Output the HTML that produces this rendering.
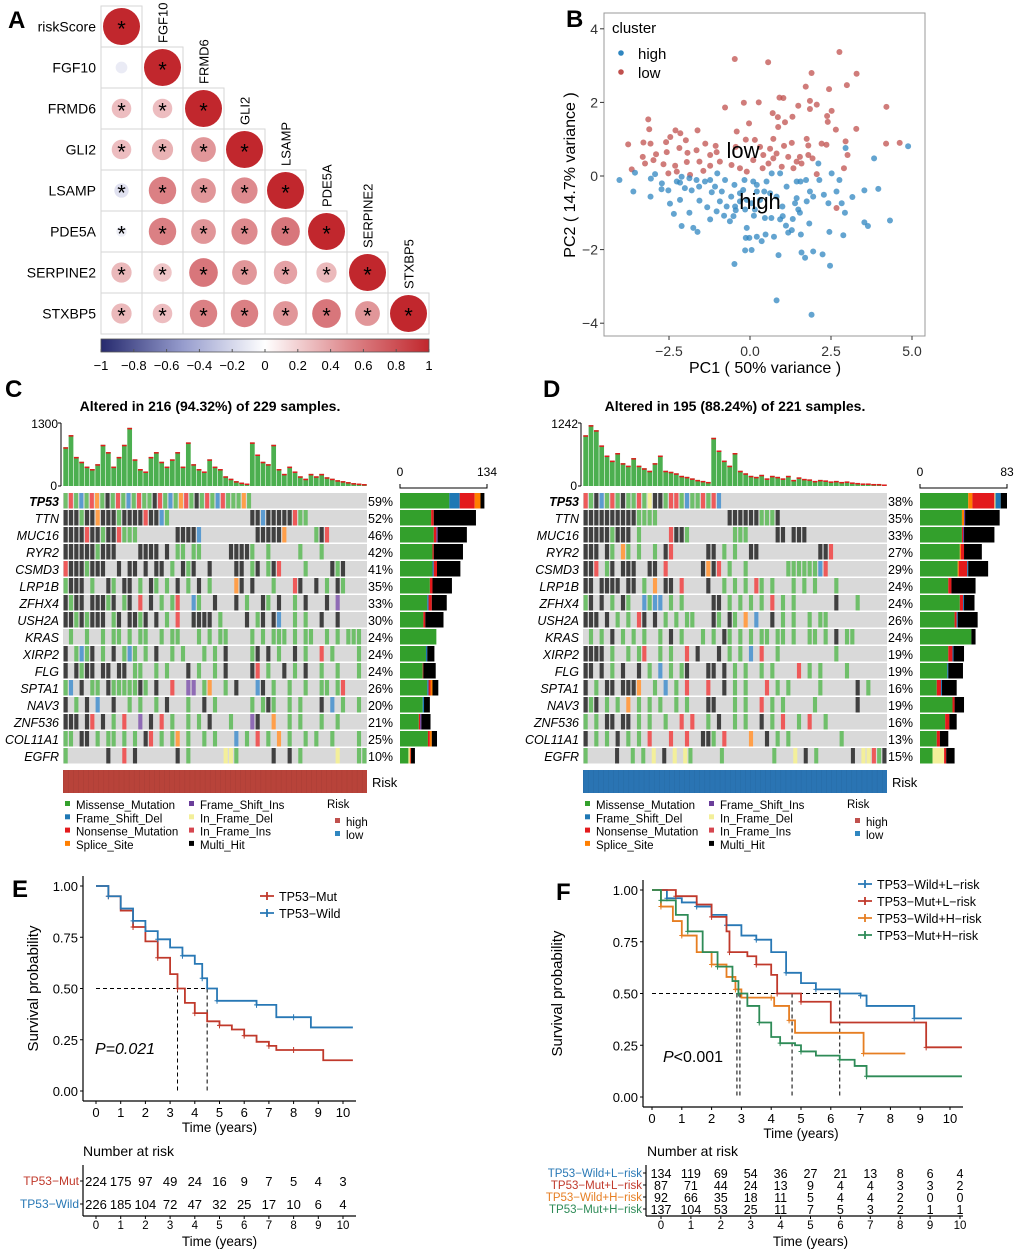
<!DOCTYPE html>
<html><head><meta charset="utf-8"><style>
html,body{margin:0;padding:0;background:#fff;}
svg{display:block;font-family:"Liberation Sans",Arial,sans-serif;}
</style></head><body>
<svg id="fig" xmlns="http://www.w3.org/2000/svg" width="1020" height="1253" viewBox="0 0 1020 1253">
<rect width="1020" height="1253" fill="#fff"/>
</svg>
<script>
// ---------- Panel A data ----------
const corrGenes = ["riskScore","FGF10","FRMD6","GLI2","LSAMP","PDE5A","SERPINE2","STXBP5"];
const corrRows = [
 [1],
 [-0.1,1],
 [0.28,0.28,1],
 [0.28,0.33,0.45,1],
 [-0.15,0.55,0.45,0.5,1],
 [-0.08,0.55,0.45,0.5,0.6,1],
 [0.3,0.25,0.6,0.45,0.4,0.3,1],
 [0.3,0.28,0.55,0.55,0.45,0.6,0.45,1]
];
const corrSig = [[1],[0,1],[1,1,1],[1,1,1,1],[1,1,1,1,1],[1,1,1,1,1,1],[1,1,1,1,1,1,1],[1,1,1,1,1,1,1,1]];
const cbTicks = [-1,-0.8,-0.6,-0.4,-0.2,0,0.2,0.4,0.6,0.8,1];
// ---------- Panel B data ----------
const pcLowX = [2.76,-0.47,0.56,1.90,3.29,2.99,2.44,1.72,-0.19,0.27,0.91,1.03,1.85,2.06,1.49,4.21,-0.77,1.85,0.70,1.31,0.86,2.52,2.38,2.40,1.08,-3.14,-3.11,-2.30,-2.15,-1.62,3.28,2.65,-0.03,-0.41,0.87,0.72,1.75,-0.13,0.15,-3.76,-3.29,-3.07,-2.59,-2.46,-1.98,-1.38,-1.06,1.29,1.80,2.21,2.36,2.95,4.20,4.62,-3.31,-2.90,-2.57,-2.18,-1.93,-1.65,-1.23,-1.03,-0.44,0.31,0.62,1.05,0.41,0.72,1.54,1.80,3.01,-3.24,-2.98,-2.67,-2.31,-1.95,-1.56,-1.23,-0.93,-0.57,0.10,0.57,0.98,1.44,1.59,1.93,-3.65,-2.52,-2.26,-1.85,-1.44,-0.31,-0.10,0.39,1.34,2.06,2.90,2.67,1.18,0.82];
const pcLowY = [3.37,3.18,3.09,2.80,2.78,2.47,2.36,2.43,1.99,2.00,2.13,2.12,2.04,1.94,1.91,1.88,1.86,1.82,1.71,1.61,1.60,1.77,1.63,1.47,1.46,1.54,1.27,1.24,1.16,1.24,1.28,1.26,1.43,1.21,1.33,1.01,1.01,0.99,0.98,0.86,0.91,0.88,0.92,1.06,0.97,0.88,0.82,0.90,0.83,0.88,0.85,0.94,0.88,0.90,0.52,0.59,0.65,0.76,0.63,0.70,0.57,0.65,0.79,0.79,0.74,0.82,0.57,0.48,0.52,0.57,0.57,0.34,0.43,0.32,0.28,0.38,0.39,0.28,0.39,0.30,0.43,0.34,0.25,0.39,0.34,0.48,0.18,0.07,0.12,0.03,0.14,0.21,0.12,0.21,0.21,0.05,0.21,-0.87,0.52,0.61];
const pcHighX = [-4.03,-3.55,-3.60,-3.07,-3.06,-2.93,-2.72,-2.73,-2.52,-2.47,-2.35,-2.16,-2.01,-2.11,-2.16,-1.87,-1.75,-1.62,-1.80,-1.57,-1.56,-1.32,-1.23,-1.18,-1.23,-1.03,-1.01,-0.93,-0.77,-0.80,-0.72,-0.62,-0.58,-0.48,-0.44,-0.31,-0.17,-0.10,-0.13,-0.02,-0.15,0.05,0.12,0.21,0.36,0.46,0.48,0.66,0.74,0.93,1.01,1.11,1.18,1.29,1.32,1.44,1.54,1.57,1.59,1.70,1.83,1.95,1.73,1.85,2.11,2.14,2.28,2.42,2.45,2.47,2.24,2.52,2.76,2.83,2.88,2.93,2.95,3.16,3.53,3.64,3.53,3.83,3.96,4.32,4.88,0.82,1.90,0.88,-0.48,0.44,0.62,0.82,1.00,1.13,1.44,0.51,0.67,0.93,0.10,0.21,0.31,0.05,-0.21,-0.31,-0.46,-0.87,-1.08,-1.39,-1.65,-1.87,-2.11,-2.26,-0.15,0.15,-0.10,0.21,-0.51,1.39,1.49,1.75,1.95,1.56,2.67];
const pcHighY = [-0.11,0.09,-0.42,-0.56,-0.07,0.05,-0.20,-0.36,-0.39,-0.75,-1.03,-0.18,-0.33,-1.36,-0.65,-1.00,-1.41,-1.52,-0.39,-0.29,-0.67,-0.85,-0.11,-0.44,-1.18,-0.96,0.07,-0.69,-0.11,-1.08,-0.83,-1.23,-0.56,-0.24,-0.93,-0.69,-0.11,-1.41,-1.68,-1.68,-2.02,-2.01,-1.08,-1.65,-1.77,-1.14,-1.59,-1.14,-1.65,-1.18,-1.09,-1.35,-1.54,-1.47,-1.17,-0.60,-1.00,-1.59,-2.08,-2.22,-1.29,-2.05,-0.11,-0.42,0.34,-0.11,-0.51,-0.74,-1.52,-2.44,-2.13,0.07,-0.11,-0.74,-1.61,-1.00,0.76,-0.57,-1.26,-1.36,-0.39,0.48,-0.35,-1.21,0.81,-3.38,-3.77,-2.15,-2.39,-0.42,-0.47,-0.56,-0.83,-0.29,-0.15,-0.15,0.07,0.07,-0.15,-0.42,-0.65,-0.74,-0.38,-0.47,-0.83,-0.42,-0.29,-0.15,-0.11,-0.06,-0.02,-0.15,-0.91,-0.91,-0.65,-0.24,-1.09,-0.74,-0.91,-0.69,-0.56,-0.15,-0.42];
const pcXTicks = [-2.5,0,2.5,5.0];
const pcYTicks = [4,2,0,-2,-4];
// ---------- Oncoplot data ----------
const oncoGenes = ["TP53","TTN","MUC16","RYR2","CSMD3","LRP1B","ZFHX4","USH2A","KRAS","XIRP2","FLG","SPTA1","NAV3","ZNF536","COL11A1","EGFR"];
const pctC = ["59%","52%","46%","42%","41%","35%","33%","30%","24%","24%","24%","26%","20%","21%","25%","10%"];
const pctD = ["38%","35%","33%","27%","29%","24%","24%","26%","24%","19%","19%","16%","19%","16%","13%","15%"];
const matC = [
"grgbgrogkgrgbgrggkrgbgorgkgrgbrgggog......................",
"kkkgkkokkkgkkkkrkkbg...............kkbkkkkkrgg...........",
"kkkkrkkgkkrggg.......kkkkb..........kkkkko.....gkr.......",
"kkkkkkgkkk....kkkk.k.gg.gg.....kkkkg..g.....g...g........",
"rkkkgkkk..k.kk.k.kk.g.kgk..k....kk.gk.gkr....g....kgk....",
"gkkk.g..kg.kk.g.kg.g.k.g.k.g....ok.k...g...rk..k.g.kg....",
"kgkk.kkkgk.gk.r.k.g.gr..bg..k...k.g..kg.k..g.k...k.p.....",
"kkgkgkkk.gk.kkgk.k.g.r..kkkk.g....k.gk.kb..g.g..k..k.....",
".g..g..g.gg.g.gg..g.gg...g.g.gg....g.g.ggg.g.gg..g.g.ggg.",
"k.gbgk.g.k.gbg.g.k..g.g...g.g.k....gk.k.g..k.g..r.g....g.",
"k.kgkk.kk.kk.gg..g.g...k.g..g.k....kr.g..k.g.k..g..g...g.",
"gb.k.gg.kgggggkg.k..r..pp.go..g.k...bk.g..g..g..gg.gr....",
"k.g.k.b..k..g.g..g.k...g..k.g......g.gkg..g.g...k.b.g..g.",
"kkk.kr.k.g.r..p.k.r.g..g.g.k...g...pk..o..g.g...g..g.....",
"gg.kk.g.gg.g.g.kr.g.go.g..g.g...b.g.r.g.o.g..g.g..g....g.",
"g.......k..r.k.......k.g......yyg......k..k.g......y...gg"];
const matD = [
"rgkbgrgkggrgykkgrrgbggrgrb...............................",
"kkkkkkkkkkgggg.............kkkkkkgggk....................",
"kkkkkgkkk.g.....rkkg........ggg.....kk.kkk...............",
"kkk.kg.og.g..g.kr......kk.g.g..kk...........kkr..........",
"kkr.gk.kkk..kk.r......kokr.g..g.......ggggggbr...........",
"kk.kkkk.kk.g.o.kk.r....k..g.g.g.rg.g...g.g.g...g.........",
"gk.k.g.kg..bgbb.g.g.....kk.g.g.g.g.r.g.g.......k...g.....",
"kkk.k.g.g.rk.k.g.g.gg...kg.kg.o.b..k.g.g..g.gg...........",
".g.g.k.g.g.g..g.k.g...g.g.kg.g.g.gg.gg.g..gg.g.k.gg......",
"kkkk.g..g.gr..g.g..r.k...k.g.g.b.r..g..........g.........",
"kk.k.g.k..k.g.b.g.gk...kk.k.g.g..g.g....r.g.g....g.......",
"k.g.kk.kkko..g.b.g.r...r..k.g.g...r.g.g.....g......k.g...",
"kgk.g.g.o.g.g.g..g.g...kk...g.g..r.g.g.....g.......k.....",
"g.g.kk.kk.g.g..g..r.r..g.k..g.g..k.g.r..g.r..g...........",
"k.g.g.k.g.g.r...r..r..kkg.r....o..k.g.g.........g........",
"g.....k..g.g.y.k.y.yg.....g.........g...y.k.g......k.yyrgk"];
const cntTypesC = [["g","b","r","o","k"],["g","r","k"],["g","r","p","k"],["g","r","k"],["g","b","r","k"],["g","r","k"],["g","b","r","k"],["g","r","k"],["g"],["g","b","k"],["g","r","k"],["g","b","r","o","k"],["g","b","k"],["g","r","p","k"],["g","r","o","k"],["g","y","o","r","k"]];
const cntValsC = [[76,16,23,9,6],[48,4,65],[52,4,2,45],[50,2,45],[50,2,5,36],[46,4,30],[42,2,5,23],[36,3,28],[56],[40,2,11],[35,1,19],[42,2,3,3,9],[35,2,9],[29,2,2,14],[43,3,3,8],[13,2,1,1,6]];
const cntTypesD = [["g","o","r","y","b","k"],["g","o","p","k"],["g","r","p","k"],["g","o","r","k"],["g","o","r","b","k"],["g","r","k"],["g","r","b","k"],["g","r","b","k"],["g","k"],["g","r","b","k"],["g","b","k"],["g","r","b","k"],["g","r","k"],["g","r","k"],["g","r","k"],["g","y","r","k"]];
const cntValsD = [[46,4,21,1,5,6],[40,2,1,33],[40,1,1,29],[38,1,3,17],[36,1,8,1,19],[27,3,23],[38,3,1,10],[33,2,1,19],[49,4],[27,4,1,10],[26,1,14],[16,4,1,14],[31,2,9],[24,4,7],[16,3,8],[12,11,2,8]];
const tmbC = [800,1050,600,500,400,350,450,850,700,400,600,850,1200,550,350,300,600,700,500,400,550,700,400,900,450,350,300,550,400,350,200,150,100,70,50,900,650,500,450,850,350,250,400,300,200,150,250,200,250,180,150,120,100,80,60,50,40];
const tmbD = [1000,1200,1100,800,600,500,650,450,400,550,400,350,300,450,600,300,280,250,200,180,150,120,100,80,950,700,500,400,650,300,250,200,180,220,150,200,180,150,200,120,170,140,130,100,120,110,90,100,80,90,70,60,50,50,40,40,30];
// ---------- KM data ----------
const kmE_mutT = [0,0.5,1,1.5,2,2.5,3,3.3,3.6,4,4.5,5,5.5,6,6.5,7,7.3,8,9.2,10.4];
const kmE_mutS = [1,0.95,0.88,0.8,0.73,0.65,0.57,0.5,0.43,0.38,0.34,0.32,0.30,0.27,0.24,0.22,0.20,0.20,0.15,0.15];
const kmE_wildT = [0,0.5,1,1.5,2,2.5,3,3.5,4,4.3,4.5,4.9,6,6.5,7.3,8,8.7,10.4];
const kmE_wildS = [1,0.95,0.89,0.83,0.78,0.74,0.70,0.66,0.62,0.55,0.50,0.44,0.44,0.42,0.36,0.36,0.31,0.31];
const kmF_wlT = [0,0.5,1,1.5,2,2.5,3,3.5,4,4.5,5,5.5,6.3,7,7.2,8.8,10.4];
const kmF_wlS = [1,0.96,0.94,0.92,0.88,0.83,0.78,0.76,0.70,0.60,0.55,0.52,0.50,0.49,0.44,0.38,0.38];
const kmF_mlT = [0,0.8,1.5,2,2.5,2.6,3.2,3.5,4,4.2,4.6,5,6,9.2,10.4];
const kmF_mlS = [1,0.97,0.93,0.87,0.80,0.70,0.68,0.64,0.59,0.50,0.50,0.46,0.36,0.24,0.24];
const kmF_whT = [0,0.3,0.7,1,1.5,2,2.5,2.8,3,4,4.1,4.6,4.8,7.1,8.5];
const kmF_whS = [1,0.92,0.85,0.78,0.70,0.64,0.58,0.52,0.48,0.48,0.44,0.37,0.31,0.21,0.21];
const kmF_mhT = [0,0.3,0.8,1.2,1.7,2.2,2.7,2.9,3.2,3.6,4,4.3,4.8,5,5.5,6.3,6.8,7.2,10.4];
const kmF_mhS = [1,0.95,0.88,0.80,0.70,0.63,0.56,0.50,0.44,0.36,0.29,0.26,0.25,0.22,0.20,0.18,0.15,0.10,0.10];
const riskE = [[224,175,97,49,24,16,9,7,5,4,3],[226,185,104,72,47,32,25,17,10,6,4]];
const riskF = [[134,119,69,54,36,27,21,13,8,6,4],[87,71,44,24,13,9,4,4,3,3,2],[92,66,35,18,11,5,4,4,2,0,0],[137,104,53,25,11,7,5,3,2,1,1]];

// ---------- helpers ----------
const svg = document.getElementById('fig');
const NS = "http://www.w3.org/2000/svg";
function el(tag, attrs, parent, txt){
  const e = document.createElementNS(NS, tag);
  for (const k in attrs) e.setAttribute(k, attrs[k]);
  if (txt !== undefined) e.textContent = txt;
  (parent||svg).appendChild(e);
  return e;
}
function grp(name){ const g = el('g',{});   return g; }
function txt(parent,x,y,s,opts,name){
  const a = Object.assign({x:x,y:y,'font-size':12,fill:'#000'},opts||{});
  const t = el('text',a,parent,s);
  
  
  return t;
}
const colMap = {g:'#33a02c',k:'#000000',r:'#e31a1c',b:'#1f78b4',o:'#ff7f00',p:'#6a3d9a',y:'#f3ef9a',m:'#d6464f'};
const colMapLight = {g:'#6fbf6a',k:'#404040',r:'#ee5a5a',b:'#5b9bd0',o:'#ff9f4a',p:'#8f6bb5',y:'#f3ef9a'};

// ---------- Panel A ----------
(function(){
  const g = grp('panel-a-correlation');
  txt(g,8,28,'A',{'font-size':24,'font-weight':'bold'},'panel-a-letter');
  const x0=101,y0=6,cw=41;
  function corColor(v){
    const pos=[[1,[193,39,45]],[0.5,[222,138,142]],[0,[255,255,255]],[-0.5,[150,156,205]],[-1,[38,42,110]]];
    for(let i=0;i<pos.length-1;i++){
      const [a,ca]=pos[i],[b,cb]=pos[i+1];
      if(v<=a&&v>=b){const t=(a-v)/(a-b);return 'rgb('+ca.map((c,j)=>Math.round(c+(cb[j]-c)*t)).join(',')+')';}
    }
    return '#fff';
  }
  corrRows.forEach((row,j)=>{
    txt(g,96,y0+cw*j+cw/2+5,corrGenes[j],{'font-size':14,'text-anchor':'end'},'row-label-'+corrGenes[j].toLowerCase());
    row.forEach((v,i)=>{
      const cx=x0+cw*i, cy=y0+cw*j;
      const r = el('rect',{x:cx,y:cy,width:cw,height:cw,fill:'#fff',stroke:'#d6d6d6','stroke-width':1},g);
      
      
      const c = el('circle',{cx:cx+cw/2,cy:cy+cw/2,r:18.5*Math.sqrt(Math.abs(v)),fill:corColor(v)},g);
      
      
      if(corrSig[j][i]) txt(g,cx+cw/2,cy+cw/2+10,'*',{'font-size':22,'text-anchor':'middle'},'significance-star');
    });
    if(j>0){
      const lx=x0+cw*j+cw/2+5, ly=y0+cw*j-4;
      txt(g,lx,ly,corrGenes[j],{'font-size':13,transform:'rotate(-90 '+lx+' '+ly+')'},'column-label-'+corrGenes[j].toLowerCase());
    }
  });
  const defs = el('defs',{},g);
  const lg = el('linearGradient',{id:'cbg',x1:'0',x2:'1',y1:'0',y2:'0'},defs);
  [-1,-0.5,0,0.5,1].forEach(v=>el('stop',{offset:((v+1)/2*100)+'%','stop-color':corColor(v)},lg));
  const cb = el('rect',{x:101,y:339,width:328,height:13,fill:'url(#cbg)',stroke:'#555','stroke-width':0.8},g);
  
  
  cbTicks.forEach(v=>{
    const x=101+(v+1)/2*328;
    el('line',{x1:x,x2:x,y1:349,y2:352,stroke:'#555'},g);
    txt(g,x,370,(v<0?'\u2212':'')+Math.abs(v),{'font-size':13,'text-anchor':'middle'},'colorbar-tick');
  });
})();

// ---------- Panel B ----------
(function(){
  const g = grp('panel-b-pca');
  txt(g,566,27,'B',{'font-size':24,'font-weight':'bold'},'panel-b-letter');
  const L=604,R=925,T=13,B=336;
  const sx=v=>750+v*32.4, sy=v=>176-v*36.8;
  const fr = el('rect',{x:L,y:T,width:R-L,height:B-T,fill:'#fff',stroke:'#999','stroke-width':1},g);
  
  
  pcYTicks.forEach(v=>{el('line',{x1:L-4,x2:L,y1:sy(v),y2:sy(v),stroke:'#333'},g);txt(g,L-6,sy(v)+5,(v<0?'\u2212':'')+Math.abs(v),{'font-size':14,'text-anchor':'end','fill':'#333'},'y-tick-label');});
  pcXTicks.forEach(v=>{el('line',{x1:sx(v),x2:sx(v),y1:B,y2:B+4,stroke:'#333'},g);txt(g,sx(v),B+20,(v<0?'\u2212':'')+Math.abs(v).toFixed(1),{'font-size':14,'text-anchor':'middle','fill':'#333'},'x-tick-label');});
  txt(g,765,373,'PC1 ( 50% variance )',{'font-size':16,'text-anchor':'middle'},'x-axis-title');
  txt(g,575,175,'PC2 ( 14.7% variance )',{'font-size':16,'text-anchor':'middle',transform:'rotate(-90 575 175)'},'y-axis-title');
  pcLowX.forEach((x,i)=>{const c=el('circle',{cx:sx(x),cy:sy(pcLowY[i]),r:3,fill:'#c0504d','fill-opacity':0.75},g);});
  pcHighX.forEach((x,i)=>{const c=el('circle',{cx:sx(x),cy:sy(pcHighY[i]),r:3,fill:'#2f86c0','fill-opacity':0.75},g);});
  txt(g,743,158,'low',{'font-size':22,'text-anchor':'middle'},'cluster-label-low');
  txt(g,760,209,'high',{'font-size':22,'text-anchor':'middle'},'cluster-label-high');
  txt(g,612,33,'cluster',{'font-size':15},'legend-title');
  el('circle',{cx:621,cy:53,r:2.8,fill:'#2f86c0'},g);
  txt(g,638,59,'high',{'font-size':15},'legend-entry-high');
  el('circle',{cx:621,cy:72,r:2.8,fill:'#c0504d'},g);
  txt(g,638,78,'low',{'font-size':15},'legend-entry-low');
})();

// ---------- Oncoplots ----------
function onco(cfg){
  const g = grp(cfg.name);
  txt(g,cfg.lx,cfg.ly,cfg.letter,{'font-size':24,'font-weight':'bold'},'panel-letter');
  txt(g,cfg.tx,411,cfg.title,{'font-size':14,'font-weight':'bold','text-anchor':'middle'},'oncoplot-title');
  const mL=cfg.mL,mR=cfg.mR,rT=493,rh=17;
  el('line',{x1:mL-2,x2:mL-2,y1:423,y2:486,stroke:'#000'},g);
  el('line',{x1:mL-5,x2:mL-2,y1:423,y2:423,stroke:'#000'},g);
  el('line',{x1:mL-5,x2:mL-2,y1:486,y2:486,stroke:'#000'},g);
  txt(g,mL-5,428,cfg.tmbMax,{'font-size':12,'text-anchor':'end'},'tmb-max-label');
  txt(g,mL-6,490,'0',{'font-size':12,'text-anchor':'end'},'tmb-zero-label');
  const bw=(mR-mL)/cfg.tmb.length;
  cfg.tmb.forEach((v,i)=>{
    const h=v/cfg.tmbMaxV*63;
    const b=el('rect',{x:mL+i*bw+0.3,y:486-h,width:bw-0.6,height:h,fill:'#4caf50'},g);
    
    
    el('rect',{x:mL+i*bw+0.3,y:486-h,width:bw-0.6,height:1.5,fill:'#e31a1c'},g);
  });
  oncoGenes.forEach((gn,j)=>{
    const y=rT+rh*j;
    el('rect',{x:mL,y:y,width:mR-mL,height:rh-1.5,fill:'#d9d9d9'},g);
    const s=cfg.mat[j], cw=(mR-mL)/s.length;
    for(let i=0;i<s.length;i++){
      const ch=s[i]; if(ch==='.') continue;
      const c=el('rect',{x:mL+i*cw+0.6,y:y,width:cw-1.2,height:rh-1.5,fill:colMapLight[ch]},g);
      
      
    }
    txt(g,mL-4,y+13,gn,{'font-size':12.5,'font-style':'italic','font-weight':j===0?'bold':'normal','text-anchor':'end'},'gene-label-'+gn.toLowerCase());
    txt(g,mR+1,y+13,cfg.pct[j],{'font-size':12.5},'gene-percent');
    let x=cfg.bL;
    cfg.cntT[j].forEach((t,k)=>{
      const w=cfg.cntV[j][k]/cfg.bMax*(cfg.bR-cfg.bL);
      const r=el('rect',{x:x,y:y,width:w,height:rh-1.5,fill:colMap[t]},g);
      
      
      x+=w;
    });
  });
  el('path',{d:`M${cfg.bL} 484 V488 H${cfg.bR} V484`,fill:'none',stroke:'#000'},g);
  txt(g,cfg.bL,476,'0',{'font-size':12,'text-anchor':'middle'},'count-axis-min');
  txt(g,cfg.bR,476,String(cfg.bMax),{'font-size':12,'text-anchor':'middle'},'count-axis-max');
  const rb=el('rect',{x:mL,y:770,width:mR-mL,height:23,fill:cfg.riskCol},g);
  
  
  for(let i=0;i<60;i++){el('rect',{x:mL+i*(mR-mL)/60,y:770,width:0.5,height:23,fill:'#000','fill-opacity':0.08},g);}
  txt(g,mR+5,787,'Risk',{'font-size':13},'risk-label');
  const items=[['Missense_Mutation','#33a02c'],['Frame_Shift_Del','#1f78b4'],['Nonsense_Mutation','#e31a1c'],['Splice_Site','#ff7f00'],['Frame_Shift_Ins','#6a3d9a'],['In_Frame_Del','#f3ef9a'],['In_Frame_Ins','#d6464f'],['Multi_Hit','#000000']];
  items.forEach((it,k)=>{
    const cx=k<4?mL+2:mL+126, cy=805+(k%4)*13.3;
    el('rect',{x:cx,y:cy-4,width:5,height:5,fill:it[1]},g);
    txt(g,cx+11,cy+4,it[0],{'font-size':11.5},'legend-entry');
  });
  txt(g,mL+264,808,'Risk',{'font-size':11.5},'legend-risk-title');
  el('rect',{x:mL+272,y:818,width:5,height:5,fill:'#c0504d'},g);
  txt(g,mL+283,826,'high',{'font-size':11.5},'legend-risk-high');
  el('rect',{x:mL+272,y:831,width:5,height:5,fill:'#2f86c0'},g);
  txt(g,mL+283,839,'low',{'font-size':11.5},'legend-risk-low');
}
onco({name:'panel-c-oncoplot-high',letter:'C',lx:5,ly:397,tx:210,title:'Altered in 216 (94.32%) of 229 samples.',mL:63,mR:367,tmb:tmbC,tmbMax:'1300',tmbMaxV:1300,mat:matC,pct:pctC,bL:400,bR:487,bMax:134,cntT:cntTypesC,cntV:cntValsC,riskCol:'#b8433a'});
onco({name:'panel-d-oncoplot-low',letter:'D',lx:543,ly:397,tx:735,title:'Altered in 195 (88.24%) of 221 samples.',mL:583,mR:887,tmb:tmbD,tmbMax:'1242',tmbMaxV:1242,mat:matD,pct:pctD,bL:920,bR:1007,bMax:83,cntT:cntTypesD,cntV:cntValsD,riskCol:'#2a74b3'});

// ---------- KM ----------
function km(cfg){
  const g=grp(cfg.name);
  txt(g,cfg.letX,cfg.letY,cfg.letter,{'font-size':24,'font-weight':'bold'},'panel-letter');
  const sx=t=>cfg.x0+t*(cfg.x10-cfg.x0)/10, sy=s=>cfg.y0-s*(cfg.y0-cfg.y1);
  el('line',{x1:cfg.axL,x2:cfg.axL,y1:cfg.y1-10,y2:cfg.axB,stroke:'#000','stroke-width':1.2},g);
  el('line',{x1:cfg.axL,x2:cfg.axR,y1:cfg.axB,y2:cfg.axB,stroke:'#000','stroke-width':1.2},g);
  [0,0.25,0.5,0.75,1].forEach(v=>{el('line',{x1:cfg.axL-3,x2:cfg.axL,y1:sy(v),y2:sy(v),stroke:'#000'},g);txt(g,cfg.axL-5,sy(v)+5,v.toFixed(2),{'font-size':13,'text-anchor':'end'},'y-tick-label');});
  for(let t=0;t<=10;t++){el('line',{x1:sx(t),x2:sx(t),y1:cfg.axB,y2:cfg.axB+3,stroke:'#000'},g);txt(g,sx(t),cfg.axB+16,String(t),{'font-size':13,'text-anchor':'middle'},'x-tick-label');}
  txt(g,(cfg.x0+cfg.x10)/2,cfg.axB+31,'Time (years)',{'font-size':13.5,'text-anchor':'middle'},'x-axis-title');
  const yc=(cfg.y0+cfg.y1)/2;
  txt(g,cfg.ytx,yc,'Survival probability',{'font-size':15,'text-anchor':'middle',transform:`rotate(-90 ${cfg.ytx} ${yc})`},'y-axis-title');
  el('path',{d:`M${sx(0)} ${sy(0.5)} H${sx(Math.max(...cfg.medians))}`,stroke:'#000','stroke-dasharray':'4 3',fill:'none'},g);
  cfg.medians.forEach(m=>el('line',{x1:sx(m),x2:sx(m),y1:sy(0.5),y2:sy(0),stroke:'#000','stroke-dasharray':'4 3'},g));
  cfg.series.forEach(s=>{
    let d=`M${sx(s.t[0])} ${sy(s.s[0])}`;
    for(let i=1;i<s.t.length;i++) d+=` H${sx(s.t[i])} V${sy(s.s[i])}`;
    const p=el('path',{d:d,stroke:s.c,'stroke-width':1.8,fill:'none'},g);
    
    
    for(let i=1;i<s.t.length-1;i+=2){
      el('path',{d:`M${sx(s.t[i])-2.5} ${sy(s.s[i])} h5 M${sx(s.t[i])} ${sy(s.s[i])-3} v6`,stroke:s.c,'stroke-width':1},g);
    }
  });
  cfg.series.forEach((s,k)=>{
    const ly=cfg.legY+k*cfg.legDy;
    el('path',{d:`M${cfg.legX} ${ly} h14 M${cfg.legX+7} ${ly-4} v8`,stroke:s.c,'stroke-width':1.8},g);
    txt(g,cfg.legX+19,ly+5,s.label,{'font-size':12.5},'legend-entry');
  });
  txt(g,cfg.pX,cfg.pY,'',{'font-size':16},'p-value').innerHTML=cfg.pTxt;
  txt(g,cfg.nX,1156,'Number at risk',{'font-size':14},'risk-table-title');
  el('line',{x1:cfg.taL,x2:cfg.taL,y1:1165,y2:cfg.taB,stroke:'#000','stroke-width':1.2},g);
  el('line',{x1:cfg.taL,x2:cfg.axR,y1:cfg.taB,y2:cfg.taB,stroke:'#000','stroke-width':1.2},g);
  const tx=t=>cfg.t0+t*(cfg.t10-cfg.t0)/10;
  cfg.risk.forEach((row,k)=>{
    const ry=cfg.rowY[k];
    txt(g,cfg.taL-4,ry+4,cfg.series[k].label,{'font-size':cfg.rfs,'text-anchor':'end',fill:cfg.series[k].c},'risk-row-label');
    el('line',{x1:cfg.taL-3,x2:cfg.taL,y1:ry,y2:ry,stroke:'#000'},g);
    row.forEach((v,t)=>txt(g,tx(t),ry+5,String(v),{'font-size':cfg.rfs+1,'text-anchor':'middle'},'risk-count'));
  });
  for(let t=0;t<=10;t++){el('line',{x1:tx(t),x2:tx(t),y1:cfg.taB,y2:cfg.taB+3,stroke:'#000'},g);txt(g,tx(t),1229,String(t),{'font-size':11.5,'text-anchor':'middle'},'table-x-tick');}
  txt(g,(cfg.t0+cfg.t10)/2,1246,'Time (years)',{'font-size':13.5,'text-anchor':'middle'},'table-x-title');
}
km({name:'panel-e-km',letter:'E',letX:12,letY:897,x0:96,x10:343,y0:1091,y1:886,axL:83,axR:356,axB:1101,ytx:38,
  medians:[3.3,4.5],
  series:[{n:'tp53-mut',label:'TP53\u2212Mut',c:'#c0392b',t:kmE_mutT,s:kmE_mutS},{n:'tp53-wild',label:'TP53\u2212Wild',c:'#2878b5',t:kmE_wildT,s:kmE_wildS}],
  legX:260,legY:896,legDy:17,pX:95,pY:1054,pTxt:'<tspan font-style="italic">P=0.021</tspan>',
  nX:83,taL:83,taB:1216,t0:96,t10:343,risk:riskE,rowY:[1181,1204],rfs:12});
km({name:'panel-f-km',letter:'F',letX:556,letY:900,x0:652,x10:950,y0:1097,y1:890,axL:643,axR:963,axB:1107,ytx:562,
  medians:[2.85,2.95,4.7,6.3],
  series:[{n:'wild-lrisk',label:'TP53\u2212Wild+L\u2212risk',c:'#2878b5',t:kmF_wlT,s:kmF_wlS},{n:'mut-lrisk',label:'TP53\u2212Mut+L\u2212risk',c:'#c0392b',t:kmF_mlT,s:kmF_mlS},{n:'wild-hrisk',label:'TP53\u2212Wild+H\u2212risk',c:'#e67e22',t:kmF_whT,s:kmF_whS},{n:'mut-hrisk',label:'TP53\u2212Mut+H\u2212risk',c:'#2e8b57',t:kmF_mhT,s:kmF_mhS}],
  legX:858,legY:884,legDy:17,pX:663,pY:1062,pTxt:'<tspan font-style="italic">P</tspan>&lt;0.001',
  nX:647,taL:646,taB:1216,t0:661,t10:960,risk:riskF,rowY:[1173,1185,1197,1209],rfs:11.5});
</script>
</body></html>
